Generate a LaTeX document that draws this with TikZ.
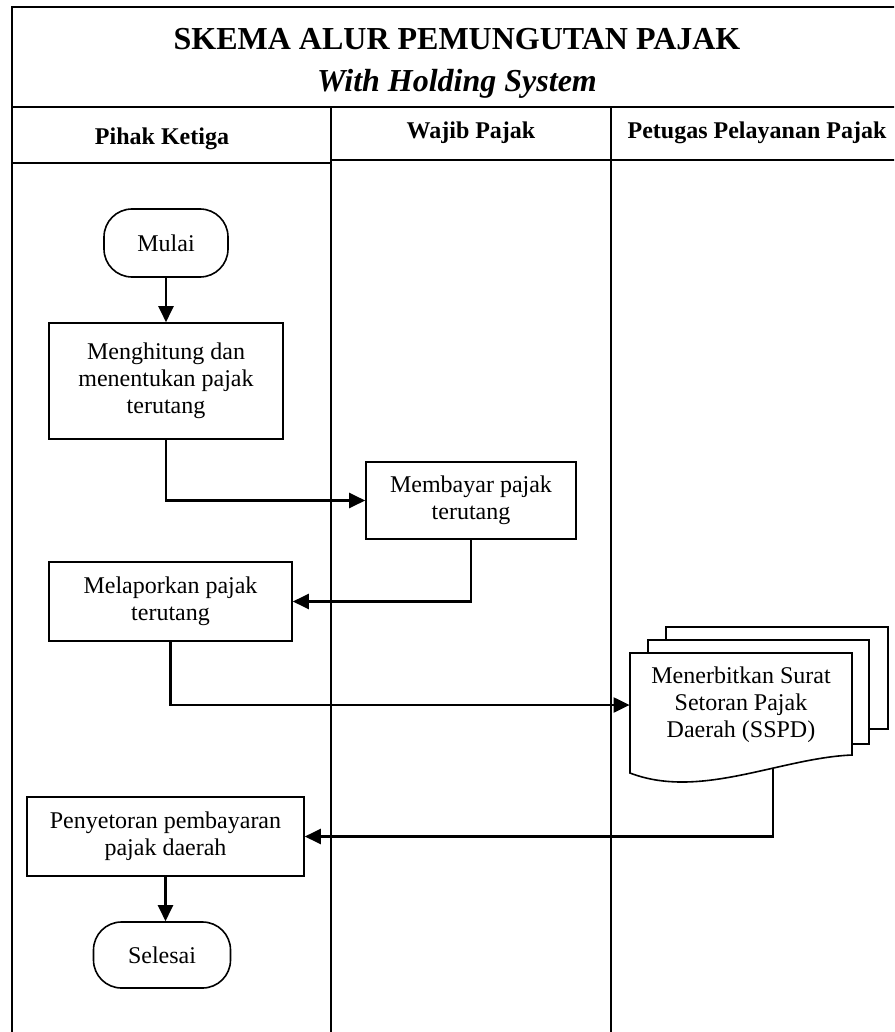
\documentclass[tikz,border=0pt]{standalone}
\usepackage{fontspec}
\setmainfont{Liberation Serif}
\usetikzlibrary{arrows.meta}

\begin{document}
\begin{tikzpicture}[x=0.5pt,y=-0.5pt,
   font=\fontsize{12}{13.6}\selectfont,
   lane/.style={line width=1pt},
   proses/.style={draw=black,line width=0.8pt,align=center,inner sep=0pt},
   terminal/.style={draw=black,line width=0.8pt,rounded corners=14pt,align=center,inner sep=0pt},
   judul/.style={font=\fontsize{16}{19}\selectfont\bfseries},
   kepala/.style={font=\fontsize{12}{14}\selectfont\bfseries},
   arus/.style={line width=1.1pt,-{Triangle[length=8pt,width=7.5pt]}}]
   \useasboundingbox (0,0) rectangle (894,1032);
   \clip (0,0) rectangle (894,1032);
   % swimlanes
   \draw[lane] (12,1040) |- (900,7);
   \draw[lane] (12,107) -- (900,107);
   \draw[lane] (12,163) -- (331,163);
   \draw[lane] (331,160) -- (900,160);
   \draw[lane] (331,107) -- (331,1040);
   \draw[lane] (611,107) -- (611,1040);
   \node[judul] (judul1) at (457,39) {SKEMA ALUR PEMUNGUTAN PAJAK};
   \node[judul,font=\fontsize{16}{19}\selectfont\bfseries\itshape] (judul2) at (457,84) {With Holding System};
   \node[kepala] (pihak) at (162,139) {Pihak Ketiga};
   \node[kepala] (wajib) at (471,133) {Wajib Pajak};
   \node[kepala] (petugas) at (757,133) {Petugas Pelayanan Pajak};
   % proses
   \begin{scope}
    \node[terminal,minimum width=62pt,minimum height=34pt] (mulai) at (166,243) {Mulai};
    \node[proses,minimum width=117pt,minimum height=58pt] (hitung) at (166,381) {Menghitung dan\\menentukan pajak\\terutang};
    \node[proses,minimum width=105pt,minimum height=38.5pt] (bayar) at (471,500.5) {Membayar pajak\\terutang};
    \node[proses,minimum width=121.5pt,minimum height=39.5pt] (lapor) at (170.5,601.5) {Melaporkan pajak\\terutang};
    \node[proses,minimum width=138.5pt,minimum height=39.5pt] (setor) at (165.5,836.5) {Penyetoran pembayaran\\pajak daerah};
    \node[terminal,minimum width=68.5pt,minimum height=33pt] (selesai) at (162,955) {Selesai};
   \end{scope}
   % dokumen SSPD
   \draw[line width=0.8pt,fill=white] (666,627) rectangle (888,729);
   \draw[line width=0.8pt,fill=white] (648,640) rectangle (869,744);
   \draw[line width=0.8pt,fill=white] (630,653) -- (852,653) -- (852,755)
      .. controls (780,758) and (700,800) .. (630,773) -- cycle;
   \node[align=center,inner sep=0pt,minimum width=111pt] (sspd) at (741,705) {Menerbitkan Surat\\Setoran Pajak\\Daerah (SSPD)};
   \coordinate (sspdout) at (773,768);
   % arus
   \draw[arus] (mulai.south) -- (hitung.north);
   \draw[arus] (hitung.south) |- (bayar.west);
   \draw[arus] (bayar.south) |- (lapor.east);
   \draw[arus] (lapor.south) |- (sspd.west);
   \draw[arus] (sspdout) |- (setor.east);
   \draw[arus] (setor.south) -- (setor.south |- selesai.north);
\end{tikzpicture}
\end{document}
